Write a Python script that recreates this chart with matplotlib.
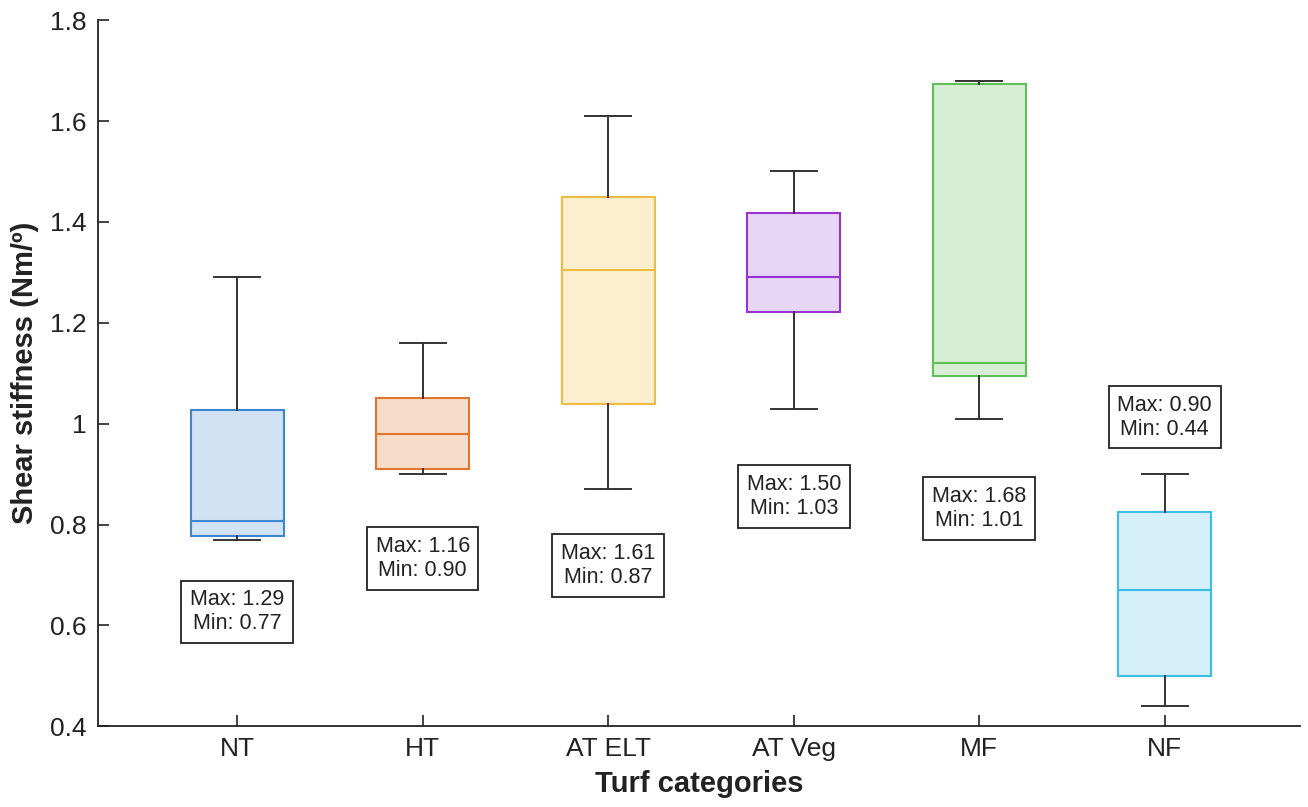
import matplotlib.pyplot as plt

plt.rcParams['font.family'] = ['Liberation Sans', 'DejaVu Sans']

# Turf categories and box statistics
categories = ["NT", "HT", "AT ELT", "AT Veg", "MF", "NF"]
whisker_max = [1.29, 1.16, 1.61, 1.50, 1.68, 0.90]
q3 = [1.027, 1.05, 1.45, 1.417, 1.673, 0.824]
median = [0.807, 0.98, 1.305, 1.29, 1.12, 0.67]
q1 = [0.777, 0.91, 1.04, 1.222, 1.094, 0.50]
whisker_min = [0.77, 0.90, 0.87, 1.03, 1.01, 0.44]

edge_colors = ["#3d87d2", "#e0762f", "#f0bb3e", "#9a33d1", "#5fbf5b", "#3bbde9"]
fill_colors = ["#d0e2f3", "#f8dcca", "#fcefd0", "#e7d6f5", "#d7eed5", "#d5f0fb"]
label_y = [0.627, 0.733, 0.719, 0.856, 0.832, 1.013]

stats = []
for i, cat in enumerate(categories):
    stats.append({"label": cat, "whislo": whisker_min[i], "q1": q1[i], "med": median[i],
                  "q3": q3[i], "whishi": whisker_max[i], "fliers": []})

fig = plt.figure(figsize=(13.08, 8.07), dpi=100)
ax = fig.add_axes([0.075, 0.1, 0.919, 0.875])

positions = list(range(1, len(categories) + 1))
bp = ax.bxp(stats, positions=positions, widths=0.5, patch_artist=True, showfliers=False,
            capwidths=0.25,
            whiskerprops=dict(color="#333333", lw=1.4),
            capprops=dict(color="#333333", lw=1.4))

for i in range(len(categories)):
    bp["boxes"][i].set_facecolor(fill_colors[i])
    bp["boxes"][i].set_edgecolor(edge_colors[i])
    bp["boxes"][i].set_linewidth(1.5)
    bp["medians"][i].set_color(edge_colors[i])
    bp["medians"][i].set_linewidth(1.5)
    ax.text(positions[i], label_y[i],
            f"Max: {whisker_max[i]:.2f}\nMin: {whisker_min[i]:.2f}",
            ha="center", va="center", fontsize=15.5, color="#222222", linespacing=1.2,
            bbox=dict(boxstyle="square,pad=0.4", fc="white", ec="#222222", lw=1.3))

ax.set_xlim(0.25, 6.73)
ax.set_ylim(0.4, 1.8)
ax.set_yticks([0.4, 0.6, 0.8, 1.0, 1.2, 1.4, 1.6, 1.8])
ax.set_yticklabels(["0.4", "0.6", "0.8", "1", "1.2", "1.4", "1.6", "1.8"])
ax.set_xticks(positions)
ax.set_xticklabels(categories)
ax.tick_params(direction="in", length=8, width=1.2, labelsize=19, colors="#222222", pad=8)
ax.spines["top"].set_visible(False)
ax.spines["right"].set_visible(False)
ax.spines["left"].set_linewidth(1.3)
ax.spines["bottom"].set_linewidth(1.3)
ax.spines["left"].set_color("#222222")
ax.spines["bottom"].set_color("#222222")

ax.set_xlabel("Turf categories", fontsize=21, fontweight="bold", labelpad=6, color="#222222")
ax.set_ylabel("Shear stiffness (Nm/º)", fontsize=21, fontweight="bold", labelpad=8, color="#222222")

fig.savefig("out.png", dpi=100)
